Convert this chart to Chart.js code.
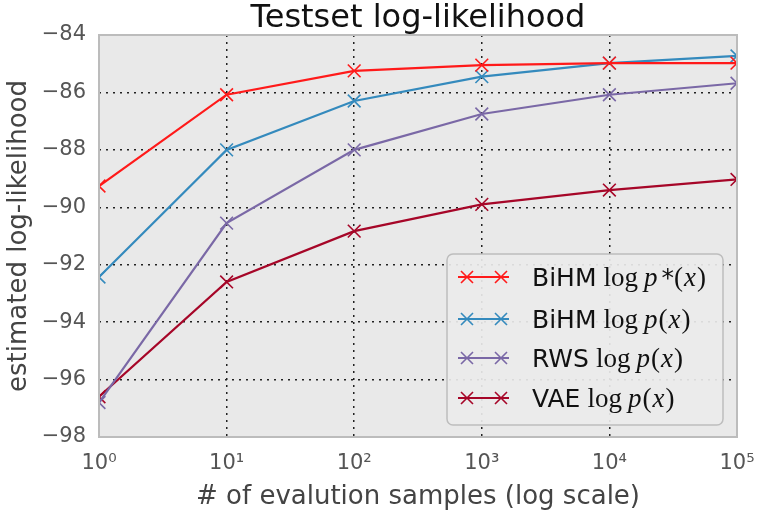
<!DOCTYPE html>
<html>
<head>
<meta charset="utf-8">
<script src="https://cdn.jsdelivr.net/npm/chart.js@4/dist/chart.umd.min.js"></script>
<style>
  html, body { margin: 0; padding: 0; background: #fff; }
  #wrap { width: 757px; height: 517px; }
</style>
</head>
<body>
<div id="wrap"><canvas id="c" width="757" height="517"></canvas></div>
<script>
/* ---- data ---- */
const chartTitle = "Testset log-likelihood";
const samples = [1, 10, 100, 1000, 10000, 100000];
const xTickLabels = ["10\u2070", "10\u00b9", "10\u00b2", "10\u00b3", "10\u2074", "10\u2075"];
const yTicks = [-98, -96, -94, -92, -90, -88, -86, -84];

const bihmStar = [-89.26, -86.08, -85.25, -85.05, -84.98, -84.98];
const bihm     = [-92.43, -88.0, -86.3, -85.45, -84.98, -84.73];
const rws      = [-96.8, -90.55, -88.0, -86.75, -86.08, -85.68];
const vae      = [-96.6, -92.6, -90.83, -89.9, -89.4, -89.03];

const seriesNames = ["BiHM", "BiHM", "RWS", "VAE"];
const seriesMath  = ["star", "plain", "plain", "plain"];
const seriesColors = ["#ff1a1a", "#348abd", "#7a68a6", "#a60628"];

/* ---- helpers ---- */
const toPoints = arr => arr.map((v, i) => ({ x: samples[i], y: v }));

function makeSet(label, values, color) {
  return {
    label,
    data: toPoints(values),
    borderColor: color,
    backgroundColor: color,
    borderWidth: 2.2,
    pointStyle: "crossRot",
    pointRadius: 9,
    pointBorderWidth: 1.6,
    pointHoverRadius: 9,
    tension: 0
  };
}

// プロット領域の背景と枠、タイトル（プロット中央揃え）
const plotFrame = {
  id: "plotFrame",
  beforeDraw(chart) {
    const { ctx, chartArea: a } = chart;
    ctx.save();
    ctx.fillStyle = "#e9e9e9";
    ctx.fillRect(a.left, a.top, a.right - a.left, a.bottom - a.top);
    ctx.restore();
  },
  afterDraw(chart) {
    const { ctx, chartArea: a } = chart;
    ctx.save();
    ctx.strokeStyle = "#bcbcbc";
    ctx.lineWidth = 2;
    ctx.strokeRect(a.left, a.top, a.right - a.left, a.bottom - a.top);
    ctx.fillStyle = "#111";
    ctx.font = "32px 'DejaVu Sans'";
    ctx.textAlign = "center";
    ctx.textBaseline = "alphabetic";
    ctx.fillText(chartTitle, (a.left + a.right) / 2, 27);
    ctx.restore();
  }
};

// 数式入りの凡例
const mathLegend = {
  id: "mathLegend",
  afterDraw(chart) {
    const ctx = chart.ctx;
    const bx = 447, by = 254, bw = 276, bh = 171, r = 6;
    ctx.save();
    ctx.beginPath();
    ctx.roundRect(bx, by, bw, bh, r);
    ctx.fillStyle = "rgba(234,234,234,0.92)";
    ctx.fill();
    ctx.strokeStyle = "#bdbdbd";
    ctx.lineWidth = 1.5;
    ctx.stroke();

    const rowY = [277, 319, 358, 398];
    const serif = "'Liberation Serif'";
    seriesColors.forEach((col, i) => {
      const y = rowY[i];
      ctx.strokeStyle = col;
      ctx.lineWidth = 2.2;
      ctx.beginPath();
      ctx.moveTo(458, y);
      ctx.lineTo(509, y);
      ctx.stroke();
      [467, 501].forEach(cx => {
        const s = 6;
        ctx.lineWidth = 1.6;
        ctx.beginPath();
        ctx.moveTo(cx - s, y - s); ctx.lineTo(cx + s, y + s);
        ctx.moveTo(cx - s, y + s); ctx.lineTo(cx + s, y - s);
        ctx.stroke();
      });

      ctx.fillStyle = "#111";
      ctx.textBaseline = "alphabetic";
      ctx.textAlign = "left";
      const base = y + 9;
      let x = 532;
      ctx.font = "25px 'DejaVu Sans'";
      ctx.fillText(seriesNames[i], x, base);
      x += ctx.measureText(seriesNames[i]).width + 7;
      const parts = seriesMath[i] === "star"
        ? [["log", "27px " + serif, 6], ["p", "italic 27px " + serif, 4], ["*", "25px 'DejaVu Sans'", 0], ["(", "27px " + serif, 1], ["x", "italic 27px " + serif, 1], [")", "27px " + serif, 0]]
        : [["log", "27px " + serif, 6], ["p", "italic 27px " + serif, 1], ["(", "27px " + serif, 1], ["x", "italic 27px " + serif, 1], [")", "27px " + serif, 0]];
      parts.forEach(([t, f, gap]) => {
        ctx.font = f;
        ctx.fillText(t, x, base);
        x += ctx.measureText(t).width + gap;
      });
    });
    ctx.restore();
  }
};

/* ---- chart ---- */
new Chart(document.getElementById("c"), {
  type: "line",
  data: {
    datasets: [
      makeSet("BiHM log p*(x)", bihmStar, seriesColors[0]),
      makeSet("BiHM log p(x)", bihm, seriesColors[1]),
      makeSet("RWS log p(x)", rws, seriesColors[2]),
      makeSet("VAE log p(x)", vae, seriesColors[3])
    ]
  },
  options: {
    responsive: false,
    animation: false,
    layout: { padding: { left: 0, right: 20, top: 35, bottom: 0 } },
    plugins: {
      legend: { display: false },
      tooltip: { enabled: false },
      title: { display: false }
    },
    scales: {
      x: {
        type: "logarithmic",
        min: 1,
        max: 100000,
        afterBuildTicks: s => { s.ticks = samples.map(v => ({ value: v })); },
        afterFit: s => { s.height = 80; s.paddingLeft = 0; s.paddingRight = 0; },
        ticks: {
          color: "#555",
          font: { family: "'DejaVu Sans'", size: 21 },
          padding: 14,
          maxRotation: 0,
          autoSkip: false,
          callback: (v) => xTickLabels[samples.indexOf(v)] ?? ""
        },
        grid: {
          color: "#222",
          lineWidth: 1.5,
          drawTicks: false
        },
        border: { display: false, dash: [2, 5] },
        title: {
          display: true,
          text: "# of evalution samples (log scale)",
          color: "#444",
          font: { family: "'DejaVu Sans'", size: 26 },
          padding: { top: 0 }
        }
      },
      y: {
        min: -98,
        max: -84,
        afterBuildTicks: s => { s.ticks = yTicks.map(v => ({ value: v })); },
        afterFit: s => { s.width = 99; s.paddingTop = 0; s.paddingBottom = 0; },
        ticks: {
          color: "#555",
          font: { family: "'DejaVu Sans'", size: 21 },
          padding: 13,
          callback: v => "\u2212" + Math.abs(v)
        },
        grid: {
          color: "#222",
          lineWidth: 1.5,
          drawTicks: false
        },
        border: { display: false, dash: [2, 5] },
        title: {
          display: true,
          text: "estimated log-likelihood",
          color: "#444",
          font: { family: "'DejaVu Sans'", size: 26 },
          padding: { bottom: 0 }
        }
      }
    }
  },
  plugins: [plotFrame, mathLegend]
});
</script>
</body>
</html>
